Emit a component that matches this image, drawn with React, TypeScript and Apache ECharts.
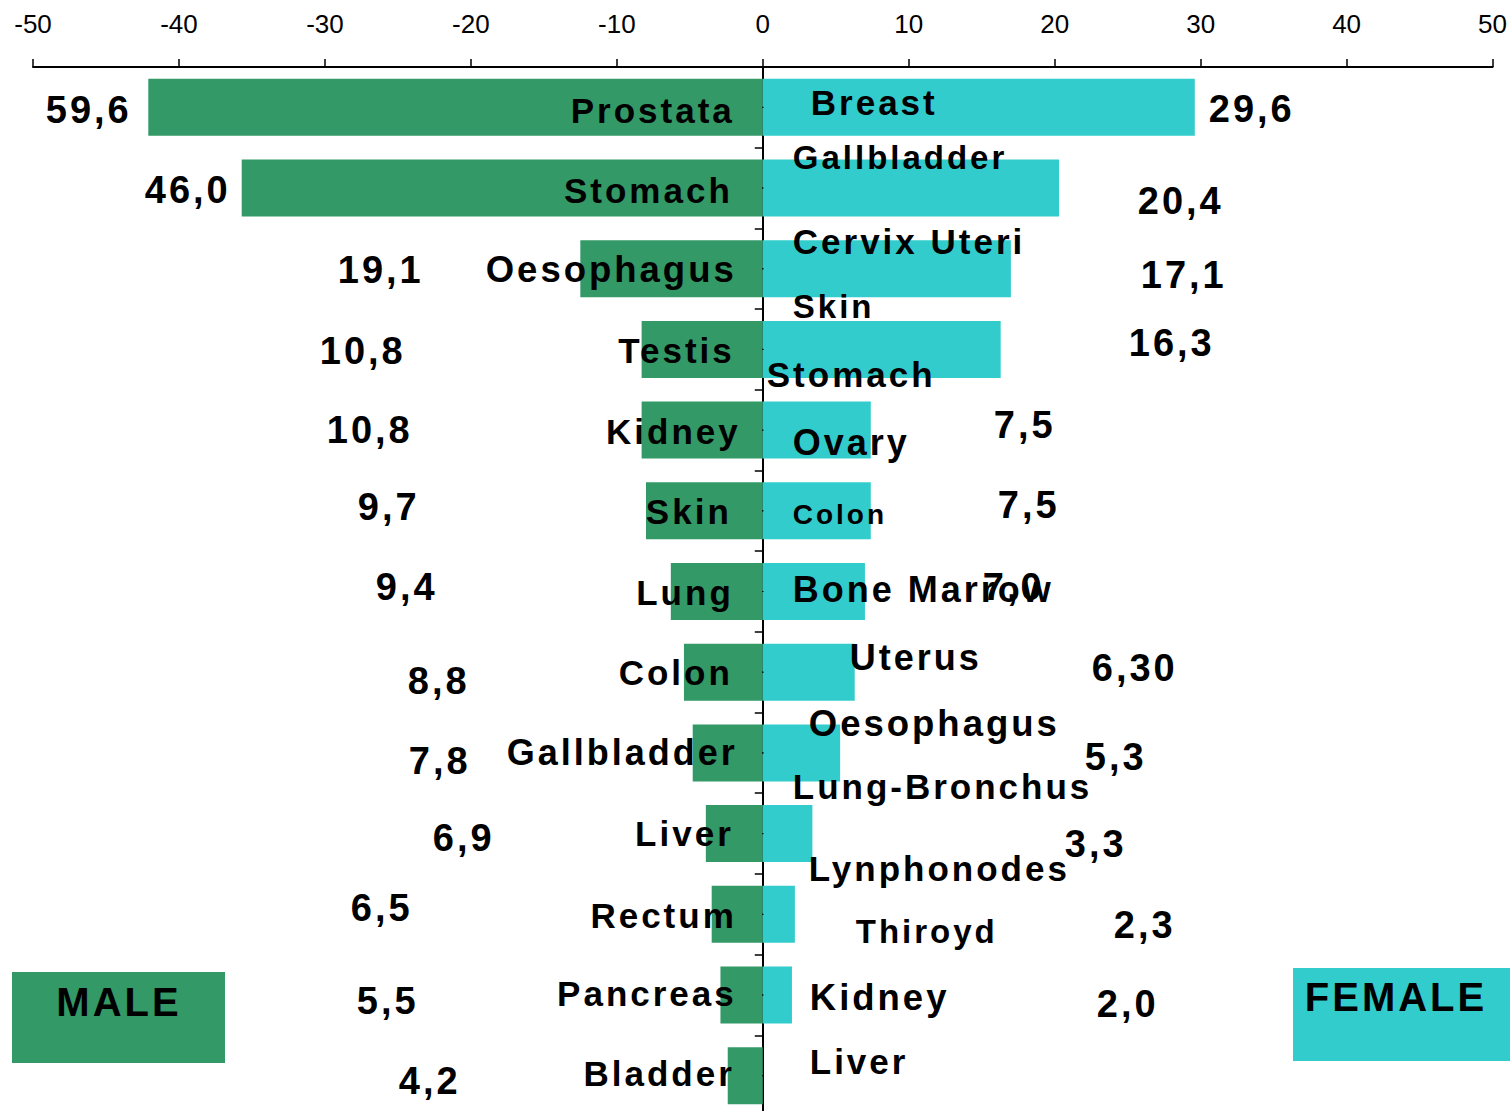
import { useEffect, useRef } from "react";
import * as echarts from "echarts";

// ---------- data ----------
const rowCategories = ["1", "2", "3", "4", "5", "6", "7", "8", "9", "10", "11", "12", "13"];
const maleSites = ["Prostata", "Stomach", "Oesophagus", "Testis", "Kidney", "Skin", "Lung", "Colon", "Gallbladder", "Liver", "Rectum", "Pancreas", "Bladder"];
const maleBars = [-42.1, -35.7, -12.5, -8.3, -8.3, -8.0, -6.3, -5.4, -4.8, -3.9, -3.5, -2.9, -2.4];
const maleValueText = ["59,6", "46,0", "19,1", "10,8", "10,8", "9,7", "9,4", "8,8", "7,8", "6,9", "6,5", "5,5", "4,2"];
const femaleSites = ["Breast", "Gallbladder", "Cervix Uteri", "Skin", "Stomach", "Ovary", "Colon", "Bone Marrow", "Uterus", "Oesophagus", "Lung-Bronchus", "Lynphonodes", "Thiroyd", "Kidney", "Liver"];
const femaleBars = [29.6, 20.3, 17.0, 16.3, 7.4, 7.4, 7.0, 6.3, 5.3, 3.4, 2.2, 2.0, null];
const femaleValueText = ["29,6", "20,4", "17,1", "16,3", "7,5", "7,5", "7,0", "6,30", "5,3", "3,3", "2,3", "2,0"];
const legendNames = ["MALE", "FEMALE"];

// ---------- layout (pixel offsets of labels from the zero line at their row) ----------
const maleNameOffsets = [[-28, 3], [-30, 2], [-26, 1], [-28, 1], [-22, 1], [-31, 1], [-29, 1], [-30, 0], [-25, 0], [-29, 0], [-26, 1], [-26, -1], [-28, -2]];
const maleNameSizes: Record<number, number> = { 2: 36.5, 8: 36 };
const maleValueOffsets = [[-674, 3], [-575, 2], [-382, 1], [-400, 2], [-393, 0], [-374, -4], [-356, -5], [-324, 9], [-323, 8], [-299, 4], [-381, -6], [-375, 6], [-333, 5]];
const femaleNameRows = [0, 1, 2, 2, 3, 4, 5, 6, 7, 8, 8, 9, 10, 11, 12];
const femaleNameOffsets = [[48, -5], [30, -31], [30, -27], [30, 38], [4, 25], [30, 12], [30, 4], [30, -2], [87, -15], [46, -29], [30, 34], [46, 35], [93, 17], [47, 3], [47, -14]];
const femaleNameSizes: Record<number, number> = { 1: 33, 3: 33, 5: 36, 6: 28, 7: 36, 8: 36, 9: 36.5, 12: 33, 13: 36.5 };
const femaleValueOffsets = [[489, 2], [418, 13], [421, 6], [409, -6], [262, -5], [266, -6], [251, -5], [372, -4], [353, 4], [333, 10], [382, 11], [365, 9]];

const GREEN = "#339966";
const CYAN = "#33CCCC";
const FONT = "'Liberation Sans', Arial, Helvetica, sans-serif";
const NAME_SIZE = 35;
const VALUE_SIZE = 38;

function labelSeries(
  name: string,
  texts: string[],
  rows: number[],
  offsets: number[][],
  align: string,
  size: number,
  sizes: Record<number, number> = {}
) {
  return {
    name,
    type: "scatter",
    silent: true,
    symbolSize: 1,
    itemStyle: { color: "#000000" },
    z: 10,
    data: texts.map((t, i) => ({
      value: [0, rows[i]],
      label: {
        formatter: t,
        offset: offsets[i],
        fontSize: sizes[i] ?? size,
      },
    })),
    label: {
      show: true,
      position: "inside",
      align,
      verticalAlign: "middle",
      color: "#000000",
      opacity: 1,
      textBorderWidth: 0,
      fontWeight: "bold",
      fontFamily: FONT,
    },
  };
}

export default function App() {
  const ref = useRef<HTMLDivElement>(null);

  useEffect(() => {
    document.body.style.margin = "0";
    const chart = echarts.init(ref.current!, null, { renderer: "svg" });
    const idx = rowCategories.map((_, i) => i);
    chart.setOption({
      animation: false,
      backgroundColor: "#ffffff",
      grid: { left: 33, width: 1460, top: 67, height: 1049, containLabel: false },
      xAxis: {
        type: "value",
        position: "top",
        min: -50,
        max: 50,
        interval: 10,
        axisLine: { show: true, lineStyle: { color: "#000", width: 2 } },
        axisTick: { show: true, length: 8, lineStyle: { color: "#000", width: 1.5 } },
        axisLabel: { fontSize: 26, color: "#000", fontFamily: FONT, margin: 30 },
        splitLine: { show: false },
      },
      yAxis: {
        type: "category",
        inverse: true,
        data: rowCategories,
        axisLine: { show: true, onZero: true, lineStyle: { color: "#000", width: 2 } },
        axisTick: { show: true, length: 8, lineStyle: { color: "#000", width: 1.5 } },
        axisLabel: { show: false },
        splitLine: { show: false },
      },
      series: [
        {
          name: "Male",
          type: "bar",
          data: maleBars,
          barWidth: 57,
          barGap: "-100%",
          itemStyle: { color: GREEN },
          silent: true,
        },
        {
          name: "Female",
          type: "bar",
          data: femaleBars,
          barWidth: 57,
          barGap: "-100%",
          itemStyle: { color: CYAN },
          silent: true,
        },
        labelSeries("maleNames", maleSites, idx, maleNameOffsets, "right", NAME_SIZE, maleNameSizes),
        labelSeries("maleValues", maleValueText, idx, maleValueOffsets, "center", VALUE_SIZE),
        labelSeries("femaleNames", femaleSites, femaleNameRows, femaleNameOffsets, "left", NAME_SIZE, femaleNameSizes),
        labelSeries("femaleValues", femaleValueText, idx, femaleValueOffsets, "center", VALUE_SIZE),
      ],
      graphic: [
        { type: "rect", shape: { x: 12, y: 972, width: 213, height: 91 }, style: { fill: GREEN }, silent: true },
        {
          type: "text",
          x: 119,
          y: 1002,
          silent: true,
          style: { text: legendNames[0], fill: "#000000", fontSize: 40, fontWeight: "bold", fontFamily: FONT, align: "center", verticalAlign: "middle" },
        },
        { type: "rect", shape: { x: 1293, y: 968, width: 217, height: 93 }, style: { fill: CYAN }, silent: true },
        {
          type: "text",
          x: 1396,
          y: 997,
          silent: true,
          style: { text: legendNames[1], fill: "#000000", fontSize: 40, fontWeight: "bold", fontFamily: FONT, align: "center", verticalAlign: "middle" },
        },
      ],
    });
    return () => chart.dispose();
  }, []);

  return (
    <>
      <style>{`.fig text[style*="bold"]{letter-spacing:3px;}`}</style>
      <div
        ref={ref}
        className="fig"
        style={{ position: "fixed", left: 0, top: 0, width: 1510, height: 1120, overflow: "hidden" }}
      />
    </>
  );
}
